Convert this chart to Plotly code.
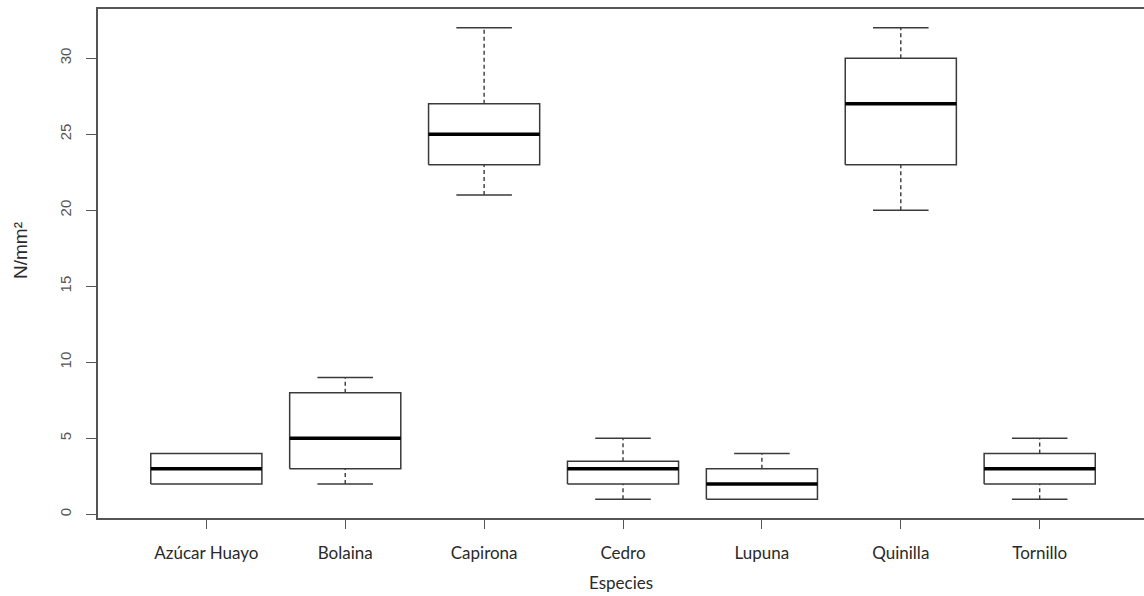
import plotly.graph_objects as go

# Resistance per species (N/mm²): five-number summaries
especies = ["Azúcar Huayo", "Bolaina", "Capirona", "Cedro", "Lupuna", "Quinilla", "Tornillo"]
minimo = [2, 2, 21, 1, 1, 20, 1]
q1 = [2, 3, 23, 2, 1, 23, 2]
mediana = [3, 5, 25, 3, 2, 27, 3]
q3 = [4, 8, 27, 3.5, 3, 30, 4]
maximo = [4, 9, 32, 5, 4, 32, 5]

y_ticks = [0, 5, 10, 15, 20, 25, 30]

BOX_HALF = 0.4     # box width 0.8 (R boxwex)
CAP_HALF = 0.2     # staple width 0.4
LINE = "#3a3a3a"

posiciones = list(range(1, len(especies) + 1))

box_x, box_y = [], []
med_x, med_y = [], []
wh_x, wh_y = [], []
cap_x, cap_y = [], []
for p, lo, a, m, b, hi in zip(posiciones, minimo, q1, mediana, q3, maximo):
    box_x += [p - BOX_HALF, p + BOX_HALF, p + BOX_HALF, p - BOX_HALF, p - BOX_HALF, None]
    box_y += [a, a, b, b, a, None]
    med_x += [p - BOX_HALF, p + BOX_HALF, None]
    med_y += [m, m, None]
    if hi > b:
        wh_x += [p, p, None]
        wh_y += [b, hi, None]
        cap_x += [p - CAP_HALF, p + CAP_HALF, None]
        cap_y += [hi, hi, None]
    if lo < a:
        wh_x += [p, p, None]
        wh_y += [lo, a, None]
        cap_x += [p - CAP_HALF, p + CAP_HALF, None]
        cap_y += [lo, lo, None]

fig = go.Figure()
fig.add_trace(go.Scatter(x=wh_x, y=wh_y, mode="lines",
                         line=dict(color=LINE, width=1.4, dash="4px,3px"),
                         hoverinfo="skip", showlegend=False))
fig.add_trace(go.Scatter(x=cap_x, y=cap_y, mode="lines",
                         line=dict(color=LINE, width=1.5),
                         hoverinfo="skip", showlegend=False))
fig.add_trace(go.Scatter(x=box_x, y=box_y, mode="lines",
                         line=dict(color=LINE, width=1.5),
                         hoverinfo="skip", showlegend=False))
fig.add_trace(go.Scatter(x=med_x, y=med_y, mode="lines",
                         line=dict(color="#000000", width=3.5),
                         hoverinfo="skip", showlegend=False))

fig.update_layout(
    width=1144, height=596,
    margin=dict(l=98, r=0, t=9, b=78),
    paper_bgcolor="white", plot_bgcolor="white",
    font=dict(family="Liberation Sans, Arial, sans-serif", color="#333"),
    xaxis=dict(
        range=[0.22, 7.751],
        tickmode="array", tickvals=posiciones, ticktext=especies,
        ticks="outside", ticklen=9, tickwidth=1.3, tickcolor="#555",
        tickfont=dict(family="Lato, sans-serif", size=17, color="#2a2a2a"),
        ticklabelstandoff=10,
        showline=True, linecolor="#555", linewidth=1.5, mirror=True,
        showgrid=False, zeroline=False,
    ),
    yaxis=dict(
        range=[-0.24, 33.24],
        tickmode="array", tickvals=y_ticks, ticktext=[str(v) for v in y_ticks],
        tickangle=-90,
        ticks="outside", ticklen=10, tickwidth=1.3, tickcolor="#555",
        tickfont=dict(size=15, color="#555"),
        ticklabelstandoff=9,
        showline=True, linecolor="#555", linewidth=1.5,
        showgrid=False, zeroline=False,
    ),
    annotations=[
        dict(text="Especies", xref="paper", yref="paper", x=0.5, y=-0.1277,
             xanchor="center", yanchor="middle", showarrow=False,
             font=dict(family="Lato, sans-serif", size=17, color="#2a2a2a")),
        dict(text="N/mm²", xref="paper", yref="paper", x=-0.0746, y=0.5265,
             xanchor="center", yanchor="middle", showarrow=False, textangle=-90,
             font=dict(size=19, color="#2a2a2a")),
    ],
)

fig.write_html("out.html")
